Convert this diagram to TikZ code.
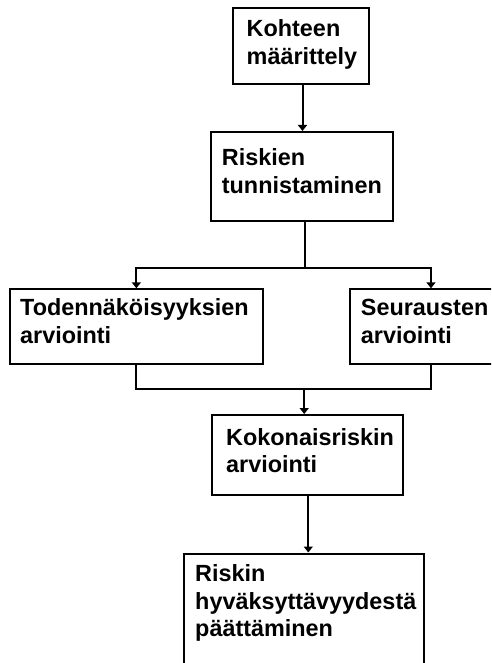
\documentclass[tikz,border=0pt]{standalone}
\usepackage{fontspec}
\setmainfont{Liberation Sans}
\usetikzlibrary{arrows.meta}
\tikzset{
  box/.style={draw=black, line width=2pt, anchor=north west, inner sep=0pt},
  txt/.style={font=\fontsize{23.4}{27.5}\selectfont\bfseries, anchor=base west, inner sep=0pt, text width=260pt, align=left},
  conn/.style={draw=black, line width=2pt},
  arr/.style={conn, -{Triangle[width=9pt,length=6pt]}}
}
\begin{document}
\begin{tikzpicture}[x=1pt,y=-1pt]
\useasboundingbox (0,0) rectangle (491,663);
\fill[white] (0,0) rectangle (491,663);
\clip (0,0) rectangle (491,663);
% boxes
\node[box, minimum width=136pt, minimum height=76pt] (b1) at (231.7,7.3) {};
\node[box, minimum width=181.7pt, minimum height=89pt] (b2) at (210,131) {};
\node[box, minimum width=252.7pt, minimum height=74.4pt] (b3) at (9,288.3) {};
\node[box, minimum width=161.4pt, minimum height=74.4pt] (b4) at (349.3,288.3) {};
\node[box, minimum width=191pt, minimum height=80.3pt] (b5) at (210.7,414) {};
\node[box, minimum width=240pt, minimum height=150pt] (b6) at (183.3,552.5) {};
% texts
\node[txt] (t1) at (246.5,36.7) {Kohteen\\määrittely};
\node[txt] (t2) at (221.7,166) {Riskien\\tunnistaminen};
\node[txt] (t3) at (20,315.7) {Todennäköisyyksien\\arviointi};
\node[txt] (t4) at (360.7,315.7) {Seurausten\\arviointi};
\node[txt] (t5) at (226,445) {Kokonaisriskin\\arviointi};
\node[txt] (t6) at (195,581.7) {Riskin\\hyväksyttävyydestä\\päättäminen};
% connectors
\draw[arr] ([xshift=1.8pt]b1.south) -- ([xshift=1.8pt]b1.south |- b2.north);
\coordinate (split) at ([xshift=2.7pt]b2.south |- 0,268);
\draw[conn] ([xshift=2.7pt]b2.south) -- (split);
\draw[arr] (split) -| (b3.north);
\draw[arr] (split) -| (b4.north);
\coordinate (join) at (b5.north |- 0,389);
\draw[conn] (b3.south) |- (join);
\draw[conn] (b4.south) |- (join);
\draw[arr] ([xshift=-3pt]join) -- ([xshift=-3pt]b5.north);
\draw[arr] ([xshift=1.1pt]b5.south) -- ([xshift=1.1pt]b5.south |- b6.north);
\end{tikzpicture}
\end{document}
